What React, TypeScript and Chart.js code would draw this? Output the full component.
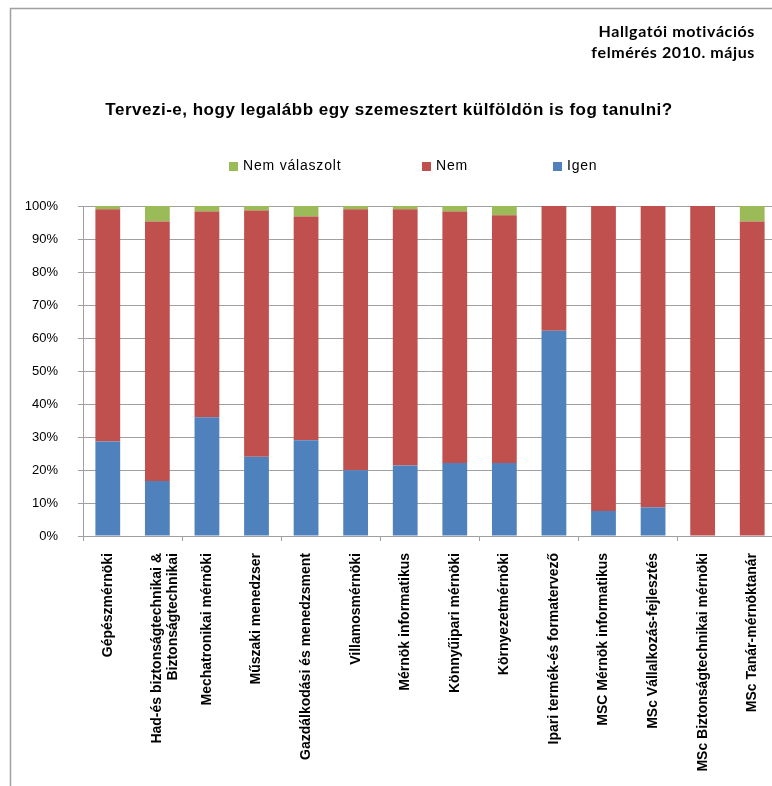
import React, { useEffect, useRef } from "react";
import { Chart, registerables } from "chart.js";

Chart.register(...registerables);

const headerLines = ["Hallgatói motivációs", "felmérés 2010. május"];
const titleText = "Tervezi-e, hogy legalább egy szemesztert külföldön is fog tanulni?";

const categories: (string | string[])[] = [
  "Gépészmérnöki",
  ["Had-és biztonságtechnikai &", "Biztonságtechnikai"],
  "Mechatronikai mérnöki",
  "Műszaki menedzser",
  "Gazdálkodási és menedzsment",
  "Villamosmérnöki",
  "Mérnök informatikus",
  "Könnyűipari mérnöki",
  "Környezetmérnöki",
  "Ipari termék-és formatervező",
  "MSC Mérnök informatikus",
  "MSc Vállalkozás-fejlesztés",
  "MSc Biztonságtechnikai mérnöki",
  "MSc Tanár-mérnöktanár",
];

const igen = [28.6, 16.7, 36.0, 24.0, 29.0, 19.9, 21.4, 22.1, 22.1, 62.2, 7.6, 8.7, 0, 0];
const nem = [70.4, 78.6, 62.3, 74.6, 67.8, 79.1, 77.6, 76.2, 75.1, 37.8, 92.4, 91.3, 100, 95.3];
const nemValaszolt = [1.0, 4.7, 1.7, 1.4, 3.2, 1.0, 1.0, 1.7, 2.8, 0, 0, 0, 0, 4.7];

const seriesNames = ["Igen", "Nem", "Nem válaszolt"];
const seriesColors = ["#4F81BD", "#C0504D", "#9BBB59"];
const legendBoxX = [229, 422, 553]; // order: Nem válaszolt, Nem, Igen

const FONT = "'Liberation Sans', Arial, sans-serif";

const decorPlugin = {
  id: "decor",
  beforeDraw(chart: any) {
    const ctx = chart.ctx as CanvasRenderingContext2D;
    ctx.save();
    ctx.fillStyle = "#ffffff";
    ctx.fillRect(0, 0, chart.width, chart.height);
    ctx.strokeStyle = "#a0a0a0";
    ctx.lineWidth = 1.5;
    ctx.beginPath();
    ctx.moveTo(10.5, chart.height + 5);
    ctx.lineTo(10.5, 8.5);
    ctx.lineTo(chart.width + 5, 8.5);
    ctx.stroke();
    ctx.restore();
  },
  afterDraw(chart: any) {
    const ctx = chart.ctx as CanvasRenderingContext2D;
    ctx.save();
    // header
    ctx.fillStyle = "#000";
    ctx.textAlign = "right";
    ctx.textBaseline = "alphabetic";
    ctx.font = "bold 16px Lato, 'Open Sans', sans-serif";
    (ctx as any).letterSpacing = "0.6px";
    ctx.fillText(headerLines[0], 755, 37);
    ctx.fillText(headerLines[1], 755, 58);
    // title
    ctx.textAlign = "center";
    ctx.textBaseline = "middle";
    ctx.font = `bold 17px ${FONT}`;
    (ctx as any).letterSpacing = "0.5px";
    ctx.fillText(titleText, 389, 110);
    // legend (reverse order)
    ctx.textAlign = "left";
    ctx.font = `14px ${FONT}`;
    (ctx as any).letterSpacing = "0.8px";
    const ds = chart.data.datasets;
    const order = [2, 1, 0];
    order.forEach((di, i) => {
      const x = legendBoxX[i];
      ctx.fillStyle = ds[di].backgroundColor;
      ctx.fillRect(x, 162, 9, 9);
      ctx.fillStyle = "#000";
      ctx.fillText(ds[di].label, x + 14, 166.5);
    });
    (ctx as any).letterSpacing = "0px";
    ctx.restore();
  },
};

export default function App() {
  const ref = useRef<HTMLCanvasElement | null>(null);

  useEffect(() => {
    if (!ref.current) return;
    const gridGray = "#a0a0a0";
    const chart = new Chart(ref.current, {
      type: "bar",
      data: {
        labels: categories as any,
        datasets: [
          { label: seriesNames[0], data: igen, backgroundColor: seriesColors[0] },
          { label: seriesNames[1], data: nem, backgroundColor: seriesColors[1] },
          { label: seriesNames[2], data: nemValaszolt, backgroundColor: seriesColors[2] },
        ],
      },
      options: {
        responsive: false,
        animation: false,
        events: [],
        datasets: {
          bar: { categoryPercentage: 1, barPercentage: 0.5, borderWidth: 0 },
        },
        layout: { padding: { top: 206, right: 23, left: 0, bottom: 0 } },
        plugins: {
          legend: { display: false },
          title: { display: false },
          tooltip: { enabled: false },
        },
        scales: {
          x: {
            stacked: true,
            offset: true,
            grid: {
              offset: true,
              drawOnChartArea: false,
              tickLength: 5,
              color: (c: any) => (c.index % 2 === 0 ? gridGray : "rgba(0,0,0,0)"),
              tickColor: (c: any) => (c.index % 2 === 0 ? gridGray : "rgba(0,0,0,0)"),
            },
            border: { color: gridGray, width: 1 },
            ticks: {
              autoSkip: false,
              minRotation: 90,
              maxRotation: 90,
              padding: 12,
              color: "#000",
              font: { family: FONT, size: 14, weight: "bold", lineHeight: 1.15 },
            },
            afterFit: (s: any) => {
              s.height = 250;
            },
          },
          y: {
            stacked: true,
            min: 0,
            max: 100,
            ticks: {
              stepSize: 10,
              callback: (v: any) => `${v}%`,
              padding: 20,
              color: "#000",
              font: { family: FONT, size: 13 },
            },
            grid: { color: gridGray, tickLength: 5, lineWidth: 1 },
            border: { color: gridGray, width: 1 },
            afterFit: (s: any) => {
              s.width = 83;
            },
          },
        },
      } as any,
      plugins: [decorPlugin],
    });
    return () => chart.destroy();
  }, []);

  return (
    <div
      style={{
        position: "fixed",
        left: 0,
        top: 0,
        width: 772,
        height: 786,
        overflow: "hidden",
        background: "#fff",
      }}
    >
      <canvas ref={ref} width={800} height={786} style={{ display: "block" }} />
    </div>
  );
}
